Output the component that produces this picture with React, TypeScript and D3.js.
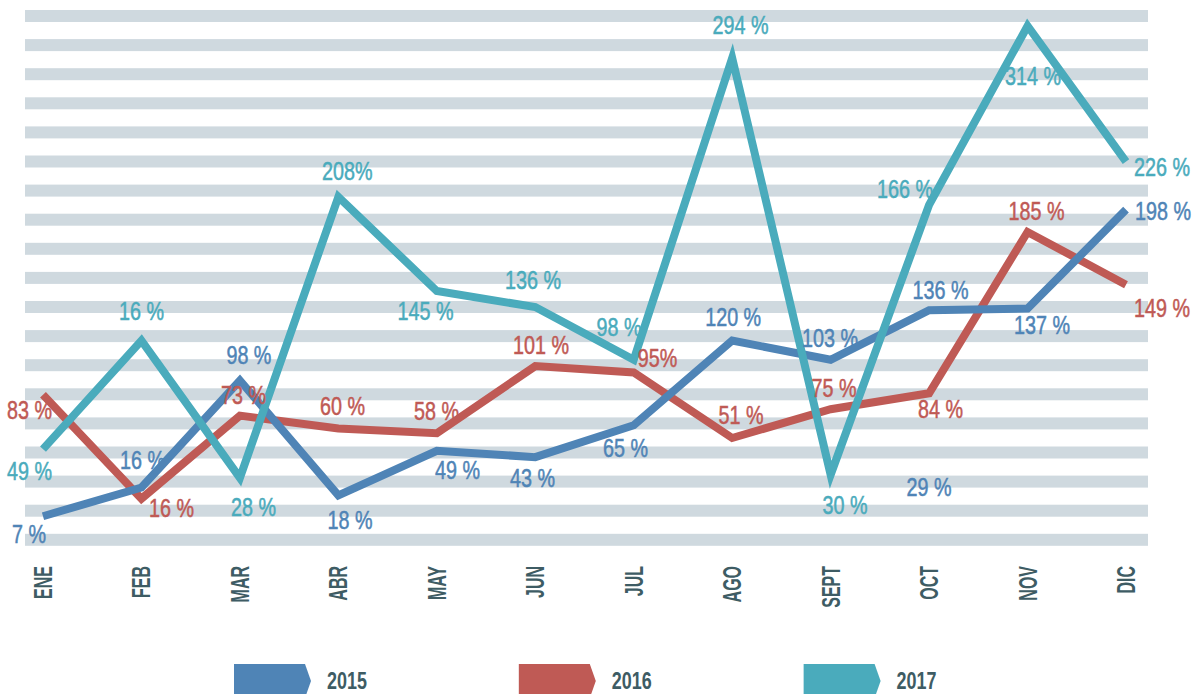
import React from "react";
import * as d3 from "d3";

const months = ["ENE", "FEB", "MAR", "ABR", "MAY", "JUN", "JUL", "AGO", "SEPT", "OCT", "NOV", "DIC"];
const years = ["2015", "2016", "2017"];

const values2015 = [7, 25, 92, 20, 48, 44, 64, 117, 105, 136, 137, 199];
const values2016 = [83, 18, 70, 62, 59, 101, 97, 56, 74, 84, 185, 152];
const values2017 = [49, 117, 31, 207, 148, 138, 105, 294, 33, 202, 314, 229];

// printed data labels
const labels2015 = ["7 %", "16 %", "98 %", "18 %", "49 %", "43 %", "65 %", "120 %", "103 %", "136 %", "137 %", "198 %"];
const labels2016 = ["83 %", "16 %", "73 %", "60 %", "58 %", "101 %", "95%", "51 %", "75 %", "84 %", "185 %", "149 %"];
const labels2017 = ["49 %", "16 %", "28 %", "208%", "145 %", "136 %", "98 %", "294 %", "30 %", "166 %", "314 %", "226 %"];

// stray label printed in the original
const extraMonth = "OCT";
const extraValue = 29;
const extraLabel = "29 %";

// label placement offsets (relative to the point)
const offsets2015: [number, number][] = [[-14, 18], [1, -26.5], [9, -25], [11.6, 25.5], [20.7, 20.3], [-2.8, 22], [-8.2, 23.8], [1, -22.5], [-0.6, -20.7], [11.4, -19.2], [14.5, 17.4], [37, 2]];
const offsets2016: [number, number][] = [[-13.5, 15.6], [30, 10], [3.6, -19.6], [4.1, -21.9], [-0.3, -21.2], [5.7, -20.1], [23.8, -13.5], [8.8, -22.5], [3.4, -20.7], [11.4, 16.7], [9, -20.5], [36, 24.3]];
const offsets2017: [number, number][] = [[-13.5, 22.4], [0, -29], [13.6, 29.6], [9, -24.8], [-11.3, 20.5], [-2.3, -26], [-14.7, -32.2], [8.3, -31.9], [14.4, 31.3], [-24, -15.3], [5.5, 51], [36, 6.3]];

const colors = ["#4f84b6", "#bf5a55", "#4aabbc"];
const stripeColor = "#cfd9df";
const axisColor = "#3e5c64";

const W = 1199;
const H = 694;

export default function App() {
  const x = d3.scalePoint<string>().domain(months).range([43, 1126]);
  const y = d3.scaleLinear().domain([0, 320]).range([527.4, 16.4]);

  const series = [
    { name: years[0], values: values2015, labels: labels2015, offsets: offsets2015, color: colors[0] },
    { name: years[1], values: values2016, labels: labels2016, offsets: offsets2016, color: colors[1] },
    { name: years[2], values: values2017, labels: labels2017, offsets: offsets2017, color: colors[2] },
  ];
  const drawOrder = [1, 0, 2];

  const line = d3
    .line<number>()
    .x((_, i) => x(months[i]) as number)
    .y((d) => y(d));

  const stripes = d3.range(19).map((i) => 10 + i * 29.1);

  const font = "'Liberation Sans', Arial, sans-serif";
  const condense = 0.79;

  return (
    <svg
      width={W}
      height={H}
      viewBox={`0 0 ${W} ${H}`}
      style={{ position: "absolute", left: 0, top: 0, display: "block", background: "#fff" }}
    >
      <g>
        {stripes.map((sy, i) => (
          <rect key={i} x={25} y={sy} width={1123} height={12} fill={stripeColor} />
        ))}
      </g>
      <g>
        {drawOrder.map((si) => {
          const s = series[si];
          return (
            <path
              key={s.name}
              d={line(s.values) || ""}
              fill="none"
              stroke={s.color}
              strokeWidth={8}
              strokeLinejoin="miter"
              strokeLinecap="butt"
              strokeMiterlimit={10}
            />
          );
        })}
      </g>
      <g fontFamily={font} fontSize={25}>
        {series.map((s) =>
          s.values.map((v, i) => (
            <text
              key={s.name + i}
              transform={`translate(${(x(months[i]) as number) + s.offsets[i][0]},${y(v) + s.offsets[i][1]}) scale(${condense},1)`}
              fill={s.color}
              stroke={s.color}
              strokeWidth={0.5}
              textAnchor="middle"
              dominantBaseline="central"
            >
              {s.labels[i]}
            </text>
          ))
        )}
        <text
          transform={`translate(${x(extraMonth) as number},${y(extraValue) + 7}) scale(${condense},1)`}
          fill={colors[0]}
          stroke={colors[0]}
          strokeWidth={0.5}
          textAnchor="middle"
          dominantBaseline="central"
        >
          {extraLabel}
        </text>
      </g>
      <g fontFamily={font} fontSize={25} fontWeight="bold" fill={axisColor}>
        {months.map((m) => (
          <text
            key={m}
            transform={`translate(${(x(m) as number) + 9},566) rotate(-90) scale(0.64,1)`}
            textAnchor="end"
          >
            {m}
          </text>
        ))}
      </g>
      <g>
        {series.map((s, i) => {
          const lx = 234 + i * 284.8;
          return (
            <g key={s.name}>
              <path
                d={`M${lx},664 H${lx + 71} L${lx + 77},681 L${lx + 71},698 H${lx} Z`}
                fill={s.color}
              />
              <text
                transform={`translate(${lx + 93},689) scale(0.78,1)`}
                fontFamily={font}
                fontSize={23}
                fontWeight="bold"
                fill={axisColor}
              >
                {s.name}
              </text>
            </g>
          );
        })}
      </g>
    </svg>
  );
}
